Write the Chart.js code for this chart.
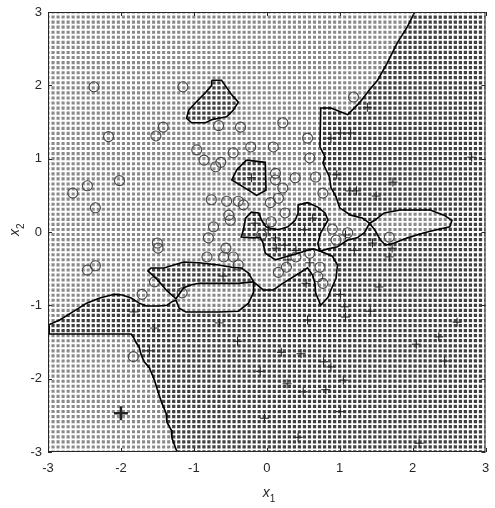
<!DOCTYPE html>
<html>
<head>
<meta charset="utf-8">
<script src="https://cdn.jsdelivr.net/npm/chart.js@4.4.1/dist/chart.umd.min.js"></script>
<style>
  html, body { margin: 0; padding: 0; background: #fff; overflow: hidden; }
  #wrap { width: 495px; height: 508px; overflow: hidden; }
  canvas { display: block; }
</style>
</head>
<body>
<div id="wrap"><canvas id="c"></canvas></div>
<script>
// axis ticks
const xTicks = [-3, -2, -1, 0, 1, 2, 3];
const yTicks = [-3, -2, -1, 0, 1, 2, 3];
// evaluation mesh of the classifier (points per side)
const meshCount = 88;

// training samples, class 1 (circles)
const classOne = [
  [-2.37,1.98],[-1.15,1.98],[-1.42,1.43],[-1.52,1.31],[-2.17,1.30],[-0.96,1.12],
  [-0.66,1.45],[-0.36,1.43],[0.22,1.49],[0.56,1.28],[-0.22,1.16],[0.09,1.16],
  [-0.46,1.08],[-0.86,0.98],[-0.63,0.95],[-0.70,0.89],[0.59,1.01],
  [0.12,0.80],[0.39,0.74],[0.67,0.75],[0.12,0.71],[0.22,0.60],[0.77,0.53],
  [0.16,0.46],[0.05,0.40],[-0.76,0.44],[-0.55,0.42],[-0.39,0.42],[-0.32,0.37],
  [0.25,0.26],[-0.52,0.23],[-0.50,0.16],[-0.73,0.07],[-0.80,-0.08],[0.06,0.14],
  [-0.07,-0.04],[0.90,0.04],[0.95,-0.11],[-0.56,-0.22],[-0.59,-0.34],[-0.46,-0.34],
  [-0.82,-0.34],[-0.39,-0.45],[0.16,-0.55],[0.40,-0.34],[0.59,-0.29],[0.73,-0.48],
  [0.70,-0.61],[0.27,-0.48],[1.19,1.84],[1.11,-0.01],[1.68,-0.07],[-1.54,-0.68],
  [-1.71,-0.85],[-1.16,-0.83],[-1.83,-1.70],[0.77,-0.70],
  [-2.66,0.53],[-2.46,0.63],[-2.35,0.33],[-2.02,0.70],[-1.50,-0.15],[-1.49,-0.22],
  [-2.46,-0.52],[-2.35,-0.46]
];
// training samples, class 2 (pluses)
const classTwo = [
  [1.38,1.70],[0.88,1.28],[1.01,1.35],[1.15,1.35],[0.96,0.78],[1.14,0.56],
  [1.23,0.56],[1.50,0.49],[1.73,0.68],[2.81,1.02],[0.63,0.19],[0.52,0.03],
  [1.20,-0.25],[1.45,-0.15],[1.72,-0.22],[1.68,-0.34],[-0.21,0.74],[-0.16,0.12],
  [0.02,0.03],[0.12,-0.08],[0.13,-0.22],[0.25,-0.18],[0.40,-0.25],[1.08,-0.04],
  [0.29,-0.38],[0.59,-0.42],[0.54,-0.70],[1.01,-0.85],[1.07,-1.02],[1.08,-1.16],
  [1.54,-0.75],[1.42,-1.08],[0.56,-1.20],[2.61,-1.23],[2.36,-1.43],[2.05,-1.53],
  [2.44,-1.76],[0.47,-1.66],[0.78,-1.77],[0.88,-1.84],[1.05,-2.02],[0.50,-2.18],
  [0.81,-2.15],[1.01,-2.45],[2.09,-2.88],[-1.82,-1.09],[-1.54,-1.31],[-1.61,-1.62],
  [-0.60,-0.60],[-0.65,-1.24],[-0.40,-1.49],[0.20,-1.64],[-0.09,-1.90],[0.28,-2.07],
  [-0.03,-2.54],[0.43,-2.80]
];
// query point
const queryPoint = [[-2.0, -2.47]];

// decision boundary, closed rings (class 2 inside an odd number of rings)
const ringMain = [
  [2.03,3],[1.93,2.80],[1.79,2.58],[1.65,2.30],[1.52,2.07],[1.41,1.94],[1.27,1.76],
  [1.11,1.60],[1.01,1.64],[0.88,1.69],[0.74,1.69],[0.73,1.16],[0.80,1.02],[0.77,0.94],
  [0.86,0.75],[0.88,0.61],[0.95,0.48],[1.00,0.33],[1.15,0.23],[1.31,0.19],[1.41,0.12],
  [1.34,-0.01],[1.24,-0.08],[1.11,-0.11],[0.97,-0.20],[0.84,-0.23],[0.73,-0.26],
  [0.90,-0.33],[0.97,-0.45],[0.95,-0.63],[0.88,-0.79],[0.84,-0.89],[0.74,-1.00],
  [0.67,-0.83],[0.66,-0.70],[0.63,-0.59],[0.56,-0.49],[0.40,-0.59],[0.22,-0.70],
  [0.09,-0.79],[-0.05,-0.79],[-0.18,-0.68],[-0.18,-0.82],[-0.25,-0.97],[-0.39,-1.08],
  [-0.66,-1.09],[-0.93,-1.09],[-1.11,-1.09],[-1.20,-1.04],[-1.245,-0.93],
  [-1.30,-0.95],[-1.37,-1.00],
  [-1.48,-1.01],[-1.65,-1.01],[-1.75,-0.97],[-1.86,-0.90],[-1.98,-0.86],[-2.09,-0.85],
  [-2.29,-0.90],[-2.47,-0.97],[-2.66,-1.09],[-2.84,-1.20],[-3,-1.27],[-3,-1.39],
  [-1.86,-1.39],[-1.82,-1.45],[-1.79,-1.51],[-1.75,-1.57],[-1.72,-1.68],[-1.68,-1.77],
  [-1.61,-1.85],[-1.54,-2.02],[-1.50,-2.15],[-1.44,-2.33],[-1.38,-2.47],[-1.37,-2.59],
  [-1.31,-2.70],[-1.30,-2.81],[-1.23,-3],[3,-3],[3,3]
];
const ringCentre = [
  [0.73,-0.26],[0.70,-0.16],[0.74,-0.01],[0.84,0.16],[0.80,0.26],[0.70,0.34],[0.56,0.40],
  [0.43,0.37],[0.43,0.26],[0.39,0.16],[0.29,0.07],[0.16,0.03],[0.05,0.05],[-0.01,0.07],
  [-0.07,0.16],[-0.11,0.26],[-0.21,0.27],[-0.29,0.19],[-0.32,0.03],[-0.35,-0.07],
  [-0.18,-0.08],[-0.09,-0.07],[-0.05,-0.15],[-0.02,-0.29],[0.12,-0.38],[0.25,-0.34],
  [0.43,-0.29],[0.56,-0.25],[0.64,-0.23]
];
const ringTongue = [
  [-0.18,-0.68],[-0.25,-0.56],[-0.35,-0.49],[-0.48,-0.48],[-0.66,-0.45],[-0.93,-0.42],
  [-1.14,-0.41],[-1.41,-0.49],[-1.59,-0.49],[-1.63,-0.53],[-1.50,-0.65],[-1.37,-0.80],
  [-1.245,-0.91],[-1.14,-0.76],[-1.03,-0.72],[-0.93,-0.70],[-0.66,-0.70],[-0.39,-0.70]
];
const ringUpperIsland = [
  [-0.755,2.07],[-0.62,2.07],[-0.48,1.87],[-0.39,1.77],[-0.46,1.66],[-0.55,1.57],
  [-0.66,1.55],[-0.755,1.53],[-0.84,1.49],[-1.03,1.49],[-1.10,1.55],[-1.07,1.66],
  [-0.97,1.77],[-0.84,1.90],[-0.755,2.00]
];
const ringMidIsland = [
  [-0.28,0.98],[-0.02,0.95],[-0.01,0.57],[-0.14,0.50],[-0.25,0.57],[-0.48,0.71],[-0.41,0.85]
];
const ringRightIsland = [
  [1.41,0.12],[1.48,0.16],[1.61,0.26],[1.83,0.30],[2.24,0.30],[2.43,0.23],[2.54,0.16],
  [2.51,0.07],[2.33,0.03],[2.16,-0.01],[1.93,-0.08],[1.75,-0.15],[1.63,-0.18],
  [1.56,-0.11],[1.48,0.03]
];
const rings = [ringMain, ringCentre, ringTongue, ringUpperIsland, ringMidIsland, ringRightIsland];

function insideRing(px, py, ring) {
  let c = false;
  for (let i = 0, j = ring.length - 1; i < ring.length; j = i++) {
    const [xi, yi] = ring[i], [xj, yj] = ring[j];
    if ((yi > py) !== (yj > py) && px < (xj - xi) * (py - yi) / (yj - yi) + xi) c = !c;
  }
  return c;
}

const meshLight = [], meshDark = [];
for (let i = 0; i < meshCount; i++) {
  for (let j = 0; j < meshCount; j++) {
    const mx = -3 + 6 * i / (meshCount - 1), my = -3 + 6 * j / (meshCount - 1);
    let n = 0;
    rings.forEach(r => { if (insideRing(mx, my, r)) n++; });
    (n % 2 ? meshDark : meshLight).push({ x: mx, y: my });
  }
}

// hide ring edges that run along the top, bottom or right border
const onBorder = (a, b) =>
  (a.x === 3 && b.x === 3) || (Math.abs(a.y) === 3 && a.y === b.y);

const boundarySets = rings.map(r => ({
  type: 'line',
  data: r.concat([r[0]]).map(p => ({ x: p[0], y: p[1] })),
  borderColor: '#000',
  borderWidth: 1.6,
  pointRadius: 0,
  showLine: true,
  fill: false,
  order: 1,
  segment: {
    borderColor: ctx => onBorder(ctx.p0.raw, ctx.p1.raw) ? 'rgba(0,0,0,0)' : '#000',
    borderWidth: ctx => (ctx.p0.raw.x === -3 && ctx.p1.raw.x === -3) ? 4 : 1.6
  }
}));

const toPts = arr => arr.map(p => ({ x: p[0], y: p[1] }));

// MATLAB-like box: frame, inward ticks on all sides, tick labels, axis titles
const frame = {
  id: 'frame',
  afterDraw(chart) {
    const { ctx, chartArea: a, scales: { x, y } } = chart;
    ctx.save();
    ctx.strokeStyle = '#262626';
    ctx.lineWidth = 1;
    ctx.strokeRect(a.left + 0.5, a.top + 0.5, a.right - a.left - 1, a.bottom - a.top - 1);
    const L = 4;
    ctx.beginPath();
    xTicks.forEach(v => {
      const p = Math.round(x.getPixelForValue(v)) + 0.5;
      ctx.moveTo(p, a.bottom); ctx.lineTo(p, a.bottom - L);
      ctx.moveTo(p, a.top); ctx.lineTo(p, a.top + L);
    });
    yTicks.forEach(v => {
      const p = Math.round(y.getPixelForValue(v)) + 0.5;
      ctx.moveTo(a.left, p); ctx.lineTo(a.left + L, p);
      ctx.moveTo(a.right, p); ctx.lineTo(a.right - L, p);
    });
    ctx.stroke();

    ctx.fillStyle = '#262626';
    ctx.font = '13px "Liberation Sans"';
    ctx.textBaseline = 'middle';
    ctx.textAlign = 'center';
    xTicks.forEach(v => ctx.fillText(String(v), x.getPixelForValue(v), a.bottom + 16));
    ctx.textAlign = 'right';
    yTicks.forEach(v => ctx.fillText(String(v), a.left - 6, y.getPixelForValue(v)));

    ctx.textBaseline = 'alphabetic';
    const cx = (a.left + a.right) / 2;
    ctx.font = 'italic 14px "Liberation Sans"';
    ctx.textAlign = 'right';
    ctx.fillText('x', cx + 3, 497);
    ctx.font = '10px "Liberation Sans"';
    ctx.textAlign = 'left';
    ctx.fillText('1', cx + 3, 502);
    ctx.translate(19, (a.top + a.bottom) / 2);
    ctx.rotate(-Math.PI / 2);
    ctx.font = 'italic 14px "Liberation Sans"';
    ctx.textAlign = 'right';
    ctx.fillText('x', 3, 0);
    ctx.font = '10px "Liberation Sans"';
    ctx.textAlign = 'left';
    ctx.fillText('2', 3, 5);
    ctx.restore();
  }
};

new Chart(document.getElementById('c'), {
  type: 'scatter',
  data: {
    datasets: [
      { data: toPts(queryPoint), pointStyle: 'cross', radius: 7, borderWidth: 2.5,
        borderColor: '#222', order: 0 },
      ...boundarySets,
      { data: toPts(classOne), pointStyle: 'circle', radius: 5, borderWidth: 1.1,
        borderColor: '#484848', backgroundColor: 'rgba(0,0,0,0)', order: 2 },
      { data: toPts(classTwo), pointStyle: 'cross', radius: 4.5, borderWidth: 1,
        borderColor: '#222', order: 2 },
      { data: meshDark, pointStyle: 'rect', radius: 2.3, borderWidth: 0,
        backgroundColor: '#404040', order: 4 },
      { data: meshLight, pointStyle: 'rect', radius: 2.2, borderWidth: 0,
        backgroundColor: '#8a8a8a', order: 4 }
    ]
  },
  options: {
    responsive: true,
    maintainAspectRatio: false,
    animation: false,
    events: [],
    layout: { padding: { left: 0, right: 6, top: 12, bottom: 0 } },
    plugins: { legend: { display: false }, tooltip: { enabled: false } },
    scales: {
      x: {
        type: 'linear', min: -3, max: 3,
        grid: { display: false }, border: { display: false },
        ticks: { stepSize: 1, display: false },
        afterFit: s => { s.height = 56; s.paddingLeft = 0; s.paddingRight = 0; }
      },
      y: {
        type: 'linear', min: -3, max: 3,
        grid: { display: false }, border: { display: false },
        ticks: { stepSize: 1, display: false },
        afterFit: s => { s.width = 48; s.paddingTop = 0; s.paddingBottom = 0; }
      }
    }
  },
  plugins: [frame]
});
</script>
</body>
</html>
